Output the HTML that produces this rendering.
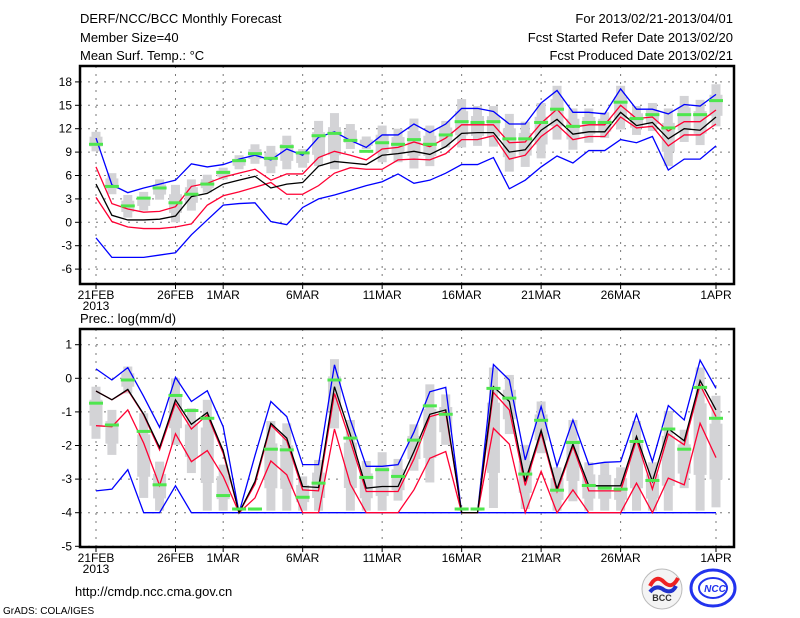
<!DOCTYPE html>
<html><head><meta charset="utf-8"><style>
body{margin:0;background:#fff;}
svg{display:block;font-family:"Liberation Sans",sans-serif;}
</style></head><body>
<svg id="c" width="800" height="618" viewBox="0 0 800 618" xmlns="http://www.w3.org/2000/svg">
<rect width="800" height="618" fill="#fff"/>
<g font-size="13" fill="#000">
<text x="80" y="23">DERF/NCC/BCC Monthly Forecast</text>
<text x="80" y="42">Member Size=40</text>
<text x="80" y="60">Mean Surf. Temp.: °C</text>
<text x="733" y="23" text-anchor="end">For 2013/02/21-2013/04/01</text>
<text x="733" y="42" text-anchor="end">Fcst Started Refer Date 2013/02/20</text>
<text x="733" y="60" text-anchor="end">Fcst Produced Date 2013/02/21</text>
<text x="80" y="323">Prec.: log(mm/d)</text>
<text x="75" y="596">http://cmdp.ncc.cma.gov.cn</text>
<text x="3" y="614" font-size="10">GrADS: COLA/IGES</text>
</g>
<g>
<circle cx="662" cy="589" r="20" fill="#f4f4f4" stroke="#bbb"/>
<path d="M650 586 q6 -12 14 -4 q8 8 14 -4" stroke="#e22" stroke-width="4" fill="none"/>
<path d="M650 592 q6 -8 14 -2 q8 4 12 -4" stroke="#23c" stroke-width="4" fill="none"/>
<text x="662" y="601" font-size="9" text-anchor="middle" font-weight="bold" fill="#333">BCC</text>
</g>
<g>
<ellipse cx="713" cy="588" rx="22" ry="18" fill="none" stroke="#23e" stroke-width="3"/>
<ellipse cx="713" cy="588" rx="14" ry="10" fill="none" stroke="#23e" stroke-width="2"/>
<text x="715" y="592" font-size="10" text-anchor="middle" font-weight="bold" font-style="italic" fill="#23e">NCC</text>
</g>
<g id="top"></g>
<g id="bot"></g>
</svg>
<script>
const days = ["21FEB","22","23","24","25","26FEB","27","28","1MAR","2","3","4","5","6MAR","7","8","9","10","11MAR","12","13","14","15","16MAR","17","18","19","20","21MAR","22","23","24","25","26MAR","27","28","29","30","31","1APR"];
const xTickLabels = ["21FEB","26FEB","1MAR","6MAR","11MAR","16MAR","21MAR","26MAR","1APR"];
const xTickIdx = [0,5,8,13,18,23,28,33,39];
const tTicks = [18,15,12,9,6,3,0,-3,-6];
const pTicks = [1,0,-1,-2,-3,-4,-5];

const tBlueHi = [10.8,4.8,3.8,4.4,4.9,5.4,7.5,7.1,7.4,8.1,8.6,8.0,9.4,8.6,10.9,11.6,10.5,9.6,11.2,11.2,12.6,11.5,12.6,14.6,14.6,14.2,12.6,12.6,15.3,16.9,14.1,14.1,13.9,17.1,14.5,14.5,13.9,15.1,14.9,16.4];
const tBlueLo = [-2.0,-4.5,-4.5,-4.5,-4.2,-3.9,-1.6,0.3,2.2,2.4,2.5,0.1,-0.3,1.9,3.0,3.5,4.1,4.7,5.2,6.2,5.0,5.4,6.3,7.4,7.4,8.3,4.3,5.4,7.1,8.5,7.6,9.2,9.2,10.6,10.2,11.0,6.7,8.1,8.1,9.8];
const tRedHi = [7.1,2.4,1.7,1.3,1.4,2.0,4.6,5.0,5.8,6.3,6.8,5.4,6.2,6.2,8.3,9.1,8.6,8.0,9.4,9.6,10.3,9.7,10.8,12.5,12.5,12.5,10.2,10.3,12.7,14.5,12.2,12.5,12.5,15.0,13.3,13.5,11.7,12.9,12.9,14.4];
const tRedLo = [3.2,0.1,-0.6,-0.8,-0.8,-0.6,-0.2,2.2,3.4,3.9,4.5,5.1,3.6,3.6,4.7,6.3,7.0,6.8,6.8,8.0,8.1,8.0,8.8,10.6,10.6,11.1,8.1,8.6,11.0,12.5,10.6,11.0,11.0,13.5,12.1,12.3,9.8,11.2,11.2,12.6];
const tMean = [4.9,0.9,0.3,0.3,0.4,0.8,3.3,3.7,4.9,5.4,5.9,4.4,4.9,5.1,7.2,7.8,7.6,7.4,8.6,8.8,9.1,8.7,9.7,11.4,11.5,11.5,9.0,9.3,11.8,13.2,11.3,11.6,11.6,14.1,12.4,12.8,10.7,12.0,11.8,13.5];
const tObs = [10.0,4.6,2.1,3.1,4.4,2.5,3.6,4.9,6.4,7.9,8.8,8.2,9.7,8.9,11.1,11.4,10.5,9.1,10.2,10.0,10.6,10.0,11.2,12.9,12.8,12.9,10.7,10.7,12.8,14.5,12.3,12.8,12.8,15.4,13.3,13.8,12.1,13.8,13.8,15.6];
const tBarHi = [11.6,6.3,3.5,3.9,5.5,4.8,5.5,6.1,7.0,8.6,10.0,9.8,11.1,9.4,13.0,14.0,12.6,11.0,12.4,12.0,13.3,12.4,13.0,15.8,14.9,14.9,13.9,12.9,15.3,17.5,14.6,14.6,14.1,17.5,14.9,15.3,14.6,16.2,15.7,17.7];
const tBarLo = [9.1,3.6,0.6,1.5,2.9,0.0,1.5,3.8,5.5,6.8,7.5,6.3,6.8,7.0,7.2,6.8,9.4,9.4,7.7,7.7,6.9,7.2,9.6,9.6,9.8,9.7,6.5,7.1,8.2,10.6,9.3,10.2,10.8,11.9,11.2,11.7,7.2,10.3,9.9,12.3];

const pBlueHi = [0.28,-0.05,0.32,-0.54,-1.46,0.03,-0.69,-0.37,-1.44,-4.0,-2.3,-0.69,-1.14,-2.57,-2.57,0.4,-1.24,-2.62,-2.62,-2.57,-1.6,-0.4,-0.27,-4.0,-4.0,0.41,-0.05,-2.43,-0.84,-2.62,-1.24,-2.57,-2.5,-2.48,-1.07,-2.48,-0.81,-1.24,0.54,-0.3];
const pBlueLo = [-3.35,-3.3,-2.72,-4,-4,-3.2,-4,-4,-4,-4,-4,-4,-4,-4,-4,-4,-4,-4,-4,-4,-4,-4,-4,-4,-4,-4,-4,-4,-4,-4,-4,-4,-4,-4,-4,-4,-4,-4,-4,-4];
const pMean = [-0.38,-0.64,-0.33,-1.07,-2.06,-0.64,-1.37,-1.02,-2.16,-4.0,-3.07,-1.34,-1.78,-3.22,-3.25,-0.25,-1.68,-3.27,-3.22,-3.22,-2.18,-1.07,-0.94,-4,-4,-0.25,-0.69,-3.07,-1.55,-3.29,-1.96,-3.2,-3.2,-3.2,-1.73,-3.07,-1.5,-1.86,-0.07,-0.94];
const pRedHi = [-0.38,-0.64,-0.35,-1.09,-2.13,-0.74,-1.51,-1.09,-2.23,-4,-3.15,-1.39,-1.86,-3.32,-3.35,-0.45,-1.88,-3.37,-3.37,-3.37,-2.4,-1.14,-1.01,-4,-4,-0.42,-0.94,-3.19,-1.63,-3.37,-2.03,-3.35,-3.35,-3.35,-1.83,-3.3,-1.66,-1.98,-0.2,-1.14];
const pRedLo = [-1.41,-1.44,-0.94,-1.93,-3.19,-1.65,-2.48,-2.15,-2.92,-4,-3.56,-2.46,-2.87,-4,-4,-1.51,-3.15,-4,-4,-4,-3.32,-2.38,-2.18,-4,-4,-1.49,-1.96,-4,-2.77,-4,-3.32,-4,-4,-4,-3.12,-4,-2.97,-3.17,-1.34,-2.36];
const pObs = [-0.74,-1.39,-0.05,-1.58,-3.17,-0.51,-0.96,-1.19,-3.49,-3.89,-3.89,-2.11,-2.13,-3.54,-3.12,-0.05,-1.78,-2.95,-2.72,-2.92,-1.84,-0.82,-1.07,-3.89,-3.89,-0.3,-0.59,-2.85,-1.25,-3.33,-1.91,-3.19,-3.27,-3.3,-1.88,-3.04,-1.51,-2.11,-0.27,-1.19];
const pBarHi = [-0.25,-0.94,0.35,-1.04,-2.48,0,-0.89,-0.64,-2.57,-3.85,-3.85,-1.27,-1.34,-2.92,-2.43,0.57,-1.24,-2.46,-2.2,-2.4,-1.37,-0.18,-0.48,-3.85,-3.85,0.32,0.1,-1.98,-0.69,-2.65,-1.24,-2.5,-2.52,-2.65,-1.27,-2.5,-0.97,-1.53,0.32,-0.52];
const pBarLo = [-1.8,-2.28,-0.45,-3.56,-3.94,-1.98,-2.82,-3.94,-3.94,-3.94,-3.94,-3.94,-3.94,-3.94,-3.94,-1.49,-3.94,-3.94,-3.94,-3.64,-2.75,-3.1,-1.98,-3.94,-3.94,-3.86,-1.66,-3.89,-2.23,-3.94,-3.66,-3.94,-3.94,-3.94,-3.94,-3.94,-3.94,-3.27,-3.94,-3.84];

const NS='http://www.w3.org/2000/svg';
const L=80,R=734;
const xs=i=>96+i*(716-96)/(days.length-1);
function mk(p,t,a){const e=document.createElementNS(NS,t);for(const k in a)e.setAttribute(k,a[k]);p.appendChild(e);return e;}

function panel(g,top,bot,y,ticks,bars,lines,obs,nm){
  // grid
  xTickIdx.forEach(i=>{const l=mk(g,'line',{x1:xs(i),x2:xs(i),y1:top,y2:bot,stroke:'#777','stroke-dasharray':'2,6'});
    
    });
  ticks.forEach(v=>{const l=mk(g,'line',{x1:L,x2:R,y1:y(v),y2:y(v),stroke:'#777','stroke-dasharray':'2,6'});
    
    
    const tk=mk(g,'line',{x1:L-5,x2:L,y1:y(v),y2:y(v),stroke:'#000'});
    
    
    const t=mk(g,'text',{x:L-8,y:y(v)+4,'text-anchor':'end','font-size':'12'});t.textContent=v;
    
    });
  xTickIdx.forEach((i,k)=>{const tk=mk(g,'line',{x1:xs(i),x2:xs(i),y1:bot,y2:bot+5,stroke:'#000'});
    
    
    const t=mk(g,'text',{x:xs(i),y:bot+15,'text-anchor':'middle','font-size':'12'});t.textContent=xTickLabels[k];
    
    });
  const yr=mk(g,'text',{x:xs(0),y:bot+26,'text-anchor':'middle','font-size':'12'});yr.textContent='2013';
  
  
  // bars
  bars[0].forEach((h,i)=>{const lo=bars[1][i];const r=mk(g,'rect',{x:xs(i)-4.5,y:y(h),width:9,height:Math.max(1,y(lo)-y(h)),fill:'#d3d3d6'});
    
    
    const ib=mk(g,'rect',{x:xs(i)-6.5,y:y(h)+(y(lo)-y(h))*0.25,width:13,height:Math.max(1,(y(lo)-y(h))*0.5),fill:'#d3d3d6'});
    
    });
  lines.forEach(([arr,col,n])=>{const p=mk(g,'polyline',{points:arr.map((v,i)=>xs(i)+','+y(v)).join(' '),fill:'none',stroke:col,'stroke-width':'1.3'});
    
    });
  obs.forEach((v,i)=>{const r=mk(g,'rect',{x:xs(i)-7,y:y(v)-1.5,width:14,height:3,fill:'#4ee64e'});
    
    });
  const f=mk(g,'rect',{x:L,y:top,width:R-L,height:bot-top,fill:'none',stroke:'#000','stroke-width':'2.5'});
  
  
}
const yT=v=>222.3-7.8*v;
const yP=v=>378.3-33.6*v;
panel(document.getElementById('top'),66,284,yT,tTicks,[tBarHi,tBarLo],
  [[tBlueHi,'#0000ff','blue-upper'],[tBlueLo,'#0000ff','blue-lower'],[tRedHi,'#ff0033','red-upper'],[tRedLo,'#ff0033','red-lower'],[tMean,'#000','ensemble-mean']],tObs,'temp');
panel(document.getElementById('bot'),329,547,yP,pTicks,[pBarHi,pBarLo],
  [[pBlueHi,'#0000ff','blue-upper'],[pBlueLo,'#0000ff','blue-lower'],[pRedHi,'#ff0033','red-upper'],[pRedLo,'#ff0033','red-lower'],[pMean,'#000','ensemble-mean']],pObs,'prec');
</script>
</body></html>
